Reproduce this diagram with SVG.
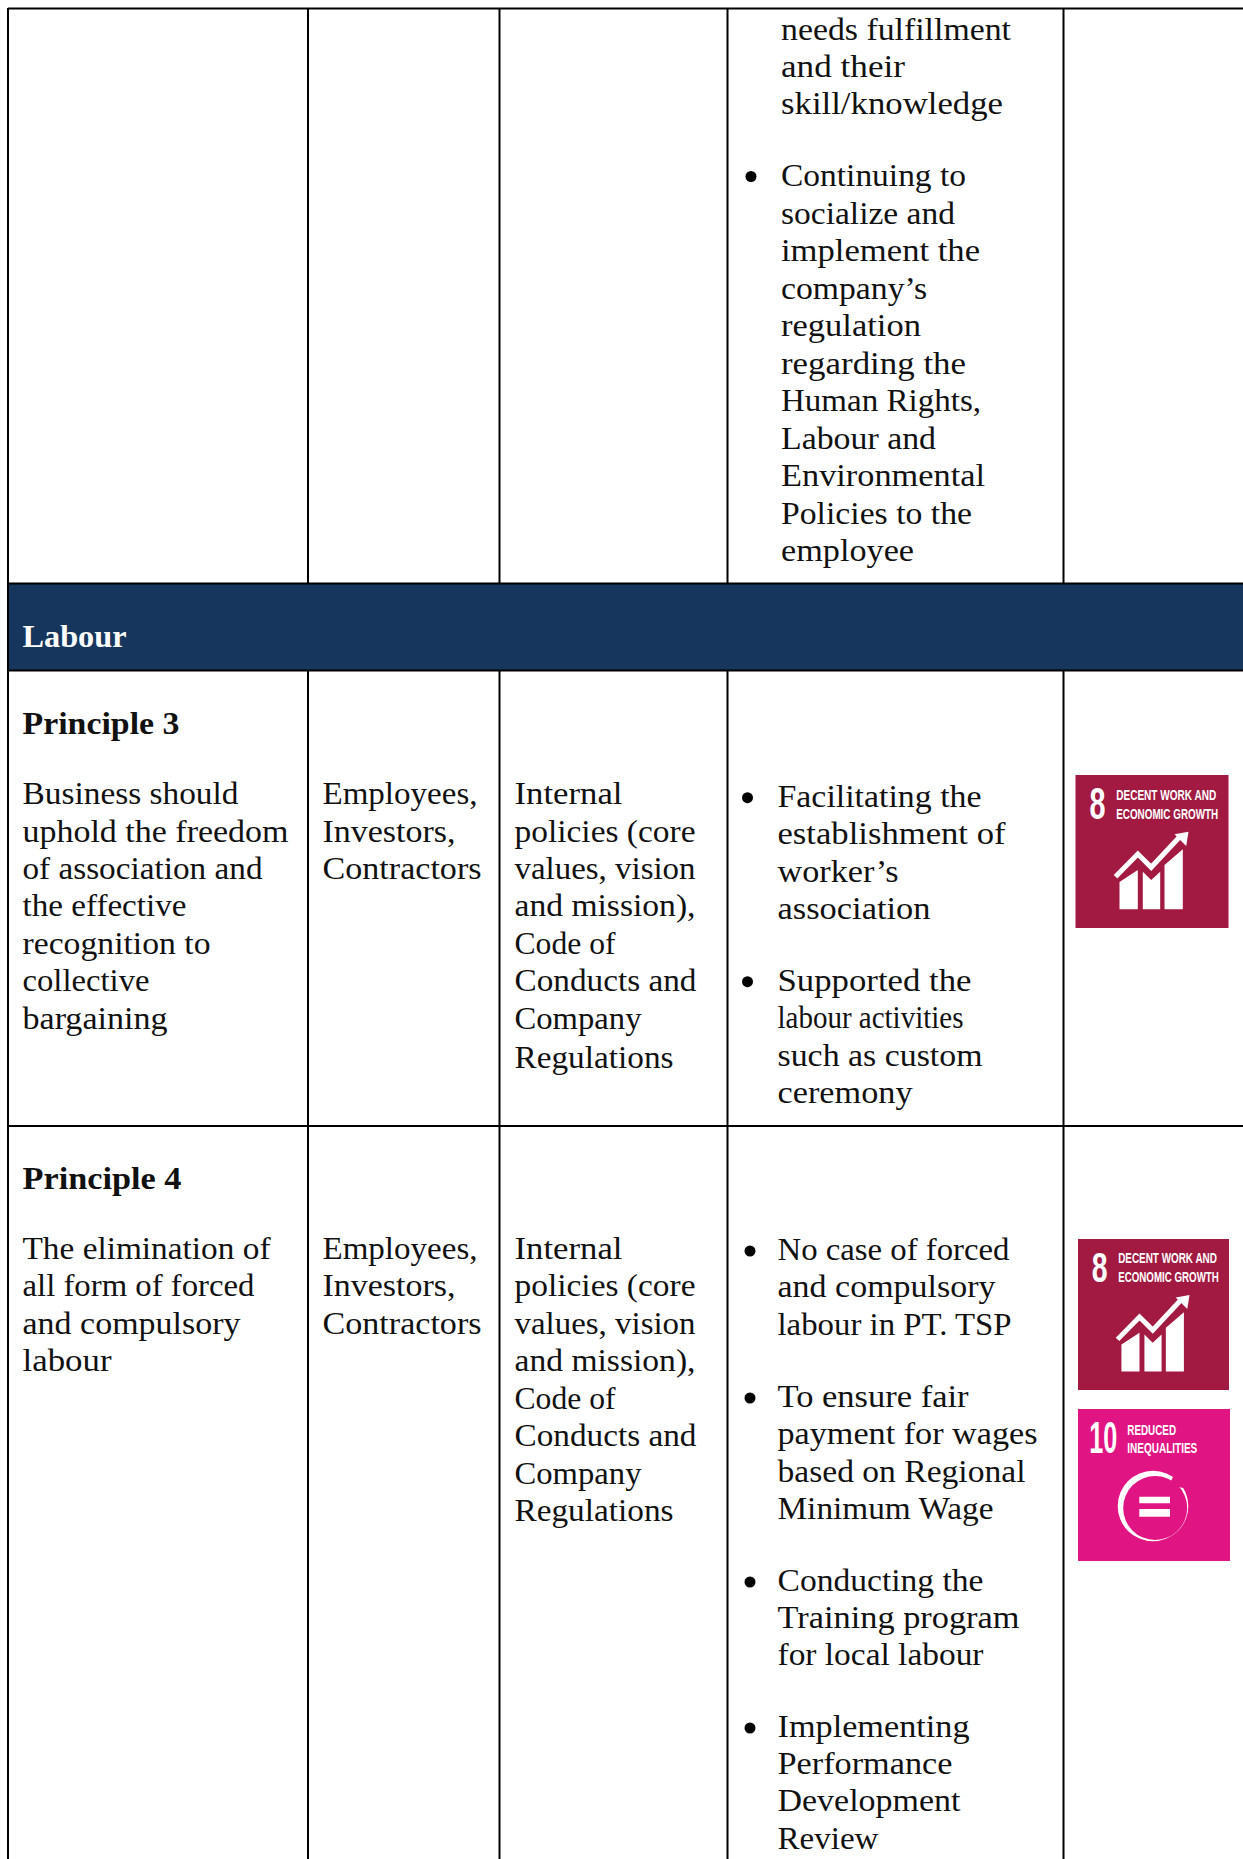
<svg xmlns="http://www.w3.org/2000/svg" width="1243" height="1859" viewBox="0 0 1243 1859">
<style>
text{font-family:"Liberation Serif","DejaVu Serif",serif;font-size:32px;fill:#111;}
.b{font-weight:700;}
.w{fill:#fff;font-weight:700;}
.l{stroke:#000;stroke-width:2;fill:none;}
.i{font-family:"Liberation Sans Narrow","Liberation Sans",Arial,sans-serif;font-weight:700;fill:#fff;}
.s{font-size:15.500px;}
.n{font-size:44px;}
.d{fill:#000;}
</style>
<defs>
<g id="chart">
<path fill="#fff" d="M44 107L62.300 95V134.300H44ZM67.300 96.700L75.700 105L84.700 96.700V134.300H67.300ZM89 90L107.300 74.300V134.300H89Z"/>
<path fill="none" stroke="#fff" stroke-width="5" d="M40 101.700L62.300 79L75.700 92.300L104 62"/>
<path fill="#fff" d="M99 59.300L113 56.700L110.700 71Z"/>
</g>
</defs>
<rect width="1243" height="1859" fill="#fff"/>
<g id="banner"><rect x="8" y="584" width="1235" height="87" fill="#17365D"/></g>
<g id="connectors">
<path class="l" d="M8 8.500H1243M8 583.500H1243M8 670.500H1243M8 1126H1243M8 8V1859M308 8V583M308 671V1859M499.500 8V583M499.500 671V1859M727.500 8V583M727.500 671V1859M1063.500 8V583M1063.500 671V1859"/>
</g>
<g id="row-top" transform="translate(0 .5)">
<text x="781" y="39" textLength="230" lengthAdjust="spacingAndGlyphs">needs fulfillment</text>
<text x="781" y="76" textLength="124" lengthAdjust="spacingAndGlyphs">and their</text>
<text x="781" y="113" textLength="222" lengthAdjust="spacingAndGlyphs">skill/knowledge</text>
<circle class="d" cx="751" cy="176" r="5.500"/>
<text x="781" y="185" textLength="185" lengthAdjust="spacingAndGlyphs">Continuing to</text>
<text x="781" y="223" textLength="174" lengthAdjust="spacingAndGlyphs">socialize and</text>
<text x="781" y="260" textLength="199" lengthAdjust="spacingAndGlyphs">implement the</text>
<text x="781" y="298" textLength="146" lengthAdjust="spacingAndGlyphs">company’s</text>
<text x="781" y="335" textLength="140" lengthAdjust="spacingAndGlyphs">regulation</text>
<text x="781" y="373" textLength="185" lengthAdjust="spacingAndGlyphs">regarding the</text>
<text x="781" y="410" textLength="200" lengthAdjust="spacingAndGlyphs">Human Rights,</text>
<text x="781" y="448" textLength="155" lengthAdjust="spacingAndGlyphs">Labour and</text>
<text x="781" y="485" textLength="204" lengthAdjust="spacingAndGlyphs">Environmental</text>
<text x="781" y="523" textLength="191" lengthAdjust="spacingAndGlyphs">Policies to the</text>
<text x="781" y="560" textLength="133" lengthAdjust="spacingAndGlyphs">employee</text>
</g>
<g id="labour-title"><text class="w" x="22.500" y="647" textLength="104" lengthAdjust="spacingAndGlyphs">Labour</text></g>
<g id="principle-3" transform="translate(0 .7)">
<text class="b" x="22.500" y="733" textLength="157" lengthAdjust="spacingAndGlyphs">Principle 3</text>
<text x="22.500" y="803" textLength="216" lengthAdjust="spacingAndGlyphs">Business should</text>
<text x="22.500" y="841" textLength="266" lengthAdjust="spacingAndGlyphs">uphold the freedom</text>
<text x="22.500" y="878" textLength="240" lengthAdjust="spacingAndGlyphs">of association and</text>
<text x="22.500" y="915" textLength="164" lengthAdjust="spacingAndGlyphs">the effective</text>
<text x="22.500" y="953" textLength="188" lengthAdjust="spacingAndGlyphs">recognition to</text>
<text x="22.500" y="990" textLength="127" lengthAdjust="spacingAndGlyphs">collective</text>
<text x="22.500" y="1028" textLength="145" lengthAdjust="spacingAndGlyphs">bargaining</text>
<text x="322.500" y="803" textLength="155" lengthAdjust="spacingAndGlyphs">Employees,</text>
<text x="322.500" y="841" textLength="133" lengthAdjust="spacingAndGlyphs">Investors,</text>
<text x="322.500" y="878" textLength="159" lengthAdjust="spacingAndGlyphs">Contractors</text>
<text x="514.500" y="803" textLength="108" lengthAdjust="spacingAndGlyphs">Internal</text>
<text x="514.500" y="841" textLength="181" lengthAdjust="spacingAndGlyphs">policies (core</text>
<text x="514.500" y="878" textLength="181" lengthAdjust="spacingAndGlyphs">values, vision</text>
<text x="514.500" y="915" textLength="181" lengthAdjust="spacingAndGlyphs">and mission),</text>
<text x="514.500" y="953" textLength="101" lengthAdjust="spacingAndGlyphs">Code of</text>
<text x="514.500" y="990" textLength="182" lengthAdjust="spacingAndGlyphs">Conducts and</text>
<text x="514.500" y="1028" textLength="127" lengthAdjust="spacingAndGlyphs">Company</text>
<text x="514.500" y="1067" textLength="159" lengthAdjust="spacingAndGlyphs">Regulations</text>
<circle class="d" cx="747.500" cy="797" r="5.500"/>
<text x="777.500" y="806" textLength="204" lengthAdjust="spacingAndGlyphs">Facilitating the</text>
<text x="777.500" y="843" textLength="228" lengthAdjust="spacingAndGlyphs">establishment of</text>
<text x="777.500" y="881" textLength="121" lengthAdjust="spacingAndGlyphs">worker’s</text>
<text x="777.500" y="918" textLength="153" lengthAdjust="spacingAndGlyphs">association</text>
<circle class="d" cx="747.500" cy="981" r="5.500"/>
<text x="777.500" y="990" textLength="194" lengthAdjust="spacingAndGlyphs">Supported the</text>
<text x="777.500" y="1027" textLength="186" lengthAdjust="spacingAndGlyphs">labour activities</text>
<text x="777.500" y="1065" textLength="205" lengthAdjust="spacingAndGlyphs">such as custom</text>
<text x="777.500" y="1102" textLength="135" lengthAdjust="spacingAndGlyphs">ceremony</text>
</g>
<g id="sdg8-a" transform="translate(1075.500 775)">
<rect width="153" height="153" fill="#A21942"/>
<text class="i n" x="14" y="44" textLength="16" lengthAdjust="spacingAndGlyphs">8</text>
<text class="i s" x="40.700" y="24.500" textLength="100" lengthAdjust="spacingAndGlyphs">DECENT WORK AND</text>
<text class="i s" x="40.700" y="43.500" textLength="102" lengthAdjust="spacingAndGlyphs">ECONOMIC GROWTH</text>
<use href="#chart"/>
</g>
<g id="principle-4">
<text class="b" x="22.500" y="1189" textLength="159" lengthAdjust="spacingAndGlyphs">Principle 4</text>
<text x="22.500" y="1259" textLength="248" lengthAdjust="spacingAndGlyphs">The elimination of</text>
<text x="22.500" y="1296" textLength="232" lengthAdjust="spacingAndGlyphs">all form of forced</text>
<text x="22.500" y="1334" textLength="218" lengthAdjust="spacingAndGlyphs">and compulsory</text>
<text x="22.500" y="1371" textLength="89" lengthAdjust="spacingAndGlyphs">labour</text>
<text x="322.500" y="1259" textLength="155" lengthAdjust="spacingAndGlyphs">Employees,</text>
<text x="322.500" y="1296" textLength="133" lengthAdjust="spacingAndGlyphs">Investors,</text>
<text x="322.500" y="1334" textLength="159" lengthAdjust="spacingAndGlyphs">Contractors</text>
<text x="514.500" y="1259" textLength="108" lengthAdjust="spacingAndGlyphs">Internal</text>
<text x="514.500" y="1296" textLength="181" lengthAdjust="spacingAndGlyphs">policies (core</text>
<text x="514.500" y="1334" textLength="181" lengthAdjust="spacingAndGlyphs">values, vision</text>
<text x="514.500" y="1371" textLength="181" lengthAdjust="spacingAndGlyphs">and mission),</text>
<text x="514.500" y="1409" textLength="101" lengthAdjust="spacingAndGlyphs">Code of</text>
<text x="514.500" y="1446" textLength="182" lengthAdjust="spacingAndGlyphs">Conducts and</text>
<text x="514.500" y="1484" textLength="127" lengthAdjust="spacingAndGlyphs">Company</text>
<text x="514.500" y="1521" textLength="159" lengthAdjust="spacingAndGlyphs">Regulations</text>
<circle class="d" cx="750" cy="1251" r="5.500"/>
<text x="777.500" y="1260" textLength="232" lengthAdjust="spacingAndGlyphs">No case of forced</text>
<text x="777.500" y="1297" textLength="218" lengthAdjust="spacingAndGlyphs">and compulsory</text>
<text x="777.500" y="1335" textLength="234" lengthAdjust="spacingAndGlyphs">labour in PT. TSP</text>
<circle class="d" cx="750" cy="1398" r="5.500"/>
<text x="777.500" y="1407" textLength="191" lengthAdjust="spacingAndGlyphs">To ensure fair</text>
<text x="777.500" y="1444" textLength="260" lengthAdjust="spacingAndGlyphs">payment for wages</text>
<text x="777.500" y="1482" textLength="248" lengthAdjust="spacingAndGlyphs">based on Regional</text>
<text x="777.500" y="1519" textLength="216" lengthAdjust="spacingAndGlyphs">Minimum Wage</text>
<circle class="d" cx="750" cy="1582" r="5.500"/>
<text x="777.500" y="1591" textLength="206" lengthAdjust="spacingAndGlyphs">Conducting the</text>
<text x="777.500" y="1628" textLength="242" lengthAdjust="spacingAndGlyphs">Training program</text>
<text x="777.500" y="1665" textLength="206" lengthAdjust="spacingAndGlyphs">for local labour</text>
<circle class="d" cx="750" cy="1728" r="5.500"/>
<text x="777.500" y="1737" textLength="192" lengthAdjust="spacingAndGlyphs">Implementing</text>
<text x="777.500" y="1774" textLength="175" lengthAdjust="spacingAndGlyphs">Performance</text>
<text x="777.500" y="1811" textLength="183" lengthAdjust="spacingAndGlyphs">Development</text>
<text x="777.500" y="1849" textLength="101" lengthAdjust="spacingAndGlyphs">Review</text>
</g>
<g id="sdg8-b" transform="translate(1078 1239) scale(.987)">
<rect width="153" height="153" fill="#A21942"/>
<text class="i n" x="14" y="44" textLength="16" lengthAdjust="spacingAndGlyphs">8</text>
<text class="i s" x="40.700" y="24.500" textLength="100" lengthAdjust="spacingAndGlyphs">DECENT WORK AND</text>
<text class="i s" x="40.700" y="43.500" textLength="102" lengthAdjust="spacingAndGlyphs">ECONOMIC GROWTH</text>
<use href="#chart"/>
</g>
<g id="sdg10" transform="translate(1078 1409)">
<rect width="152" height="152" fill="#E11484"/>
<text class="i n" x="11.300" y="44" textLength="28" lengthAdjust="spacingAndGlyphs">10</text>
<text class="i s" x="49.300" y="26" textLength="48.700" lengthAdjust="spacingAndGlyphs">REDUCED</text>
<text class="i s" x="49.300" y="44.300" textLength="70" lengthAdjust="spacingAndGlyphs">INEQUALITIES</text>
<path fill="#fff" fill-rule="evenodd" d="M39.700 97A35.300 35.300 0 1 0 110.300 97A35.300 35.300 0 1 0 39.700 97ZM45.200 99A32 32 0 1 0 109.200 99A32 32 0 1 0 45.200 99Z"/>
<path fill="#E11484" d="M91 76L99 60L115 60L105 79Z"/>
<path fill="#fff" d="M61.300 87.700H92V94.300H61.300ZM61.300 100H92V107.700H61.300Z"/>
</g>
</svg>
